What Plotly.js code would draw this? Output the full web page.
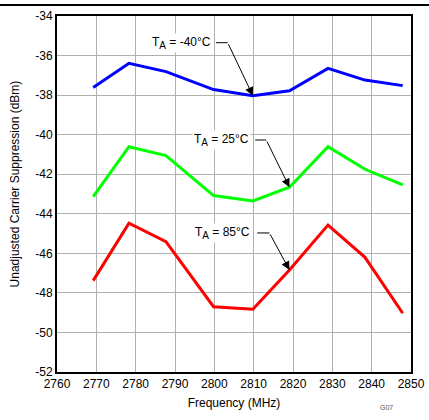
<!DOCTYPE html>
<html>
<head>
<meta charset="utf-8">
<script src="https://cdn.plot.ly/plotly-3.0.1.min.js"></script>
<style>html,body{margin:0;padding:0;background:#fff;}#chart{width:429px;height:420px;}</style>
</head>
<body>
<div id="chart"></div>
<script>
// Data
const freq  = [2769.2, 2778.3, 2787.7, 2799.8, 2809.8, 2819.1, 2828.9, 2838.3, 2847.9];
const tMinus40 = [-37.62, -36.39, -36.81, -37.72, -38.03, -37.78, -36.65, -37.24, -37.52];
const t25      = [-43.13, -40.61, -41.06, -43.08, -43.35, -42.66, -40.61, -41.75, -42.54];
const t85      = [-47.38, -44.48, -45.41, -48.70, -48.83, -46.84, -44.57, -46.20, -49.03];
const seriesNames = ['T<sub><span style="font-size:10px">A</span></sub> = -40°C',
                     'T<sub><span style="font-size:10px">A</span></sub> = 25°C',
                     'T<sub><span style="font-size:10px">A</span></sub> = 85°C'];
const seriesColors = ['#0000ff', '#00ff00', '#ff0000'];
const xTicks = [2760, 2770, 2780, 2790, 2800, 2810, 2820, 2830, 2840, 2850];
const yTicks = [-34, -36, -38, -40, -42, -44, -46, -48, -50, -52];

const FONT = 'Liberation Sans, Arial, sans-serif';
const series = [tMinus40, t25, t85];

const traces = series.map((ys, i) => ({
  x: freq, y: ys, type: 'scatter', mode: 'lines',
  line: {color: seriesColors[i], width: 3},
  name: seriesNames[i], hoverinfo: 'skip'
}));

// callout placement: [text right x, y, elbow x, point index]
const callouts = [
  {tx: 2799.6, ty: -35.35, lx0: 2800.4, lx1: 2803.4, idx: 4},
  {tx: 2809.4, ty: -40.27, lx0: 2810.4, lx1: 2813.2, idx: 5},
  {tx: 2809.7, ty: -44.97, lx0: 2810.9, lx1: 2814.0, idx: 5}
];

const annotations = [];
const shapes = [];
callouts.forEach((c, i) => {
  annotations.push({
    x: c.tx, y: c.ty, xref: 'x', yref: 'y', xanchor: 'right', yanchor: 'middle',
    text: seriesNames[i], showarrow: false, bgcolor: '#ffffff',
    font: {family: FONT, size: 12, color: '#000'}, borderpad: 1
  });
  shapes.push({type: 'line', xref: 'x', yref: 'y', x0: c.lx0, x1: c.lx1, y0: c.ty, y1: c.ty,
    line: {color: '#000', width: 1}});
  annotations.push({
    x: freq[c.idx], y: series[i][c.idx], xref: 'x', yref: 'y',
    ax: c.lx1, ay: c.ty, axref: 'x', ayref: 'y',
    text: '', showarrow: true, arrowhead: 2, arrowsize: 1.7, arrowwidth: 1,
    arrowcolor: '#000', standoff: 0, startstandoff: 0
  });
});

// y-axis title (placed slightly above plot centre, as in the reference)
annotations.push({x: -0.1186, y: 0.527, xref: 'paper', yref: 'paper', xanchor: 'center', yanchor: 'middle',
  textangle: -90, text: 'Unadjusted Carrier Suppression (dBm)', showarrow: false,
  font: {family: FONT, size: 12, color: '#000'}});

// top rule and figure id
shapes.push({type: 'line', xref: 'paper', yref: 'paper', x0: -0.17, x1: 1.06, y0: 1.031, y1: 1.031,
  line: {color: '#000', width: 2}});
annotations.push({x: 0.907, y: -0.101, xref: 'paper', yref: 'paper', xanchor: 'left', yanchor: 'middle',
  text: 'G07', showarrow: false, font: {family: FONT, size: 7, color: '#555'}});

const layout = {
  width: 429, height: 420,
  margin: {l: 57, r: 18, t: 16, b: 48, pad: 0},
  paper_bgcolor: '#fff', plot_bgcolor: '#fff',
  showlegend: false,
  font: {family: FONT, size: 12, color: '#000'},
  xaxis: {
    range: [2760, 2850], tickvals: xTicks, ticktext: xTicks.map(String),
    showgrid: true, gridcolor: '#b0b0b0', gridwidth: 1,
    showline: true, linecolor: '#000', linewidth: 2, mirror: true,
    ticks: '', zeroline: false,
    tickfont: {family: FONT, size: 12, color: '#000'},
    title: {text: 'Frequency (MHz)', font: {family: FONT, size: 12, color: '#000'}, standoff: 8}
  },
  yaxis: {
    range: [-52, -34], tickvals: yTicks, ticktext: yTicks.map(String),
    showgrid: true, gridcolor: '#b0b0b0', gridwidth: 1,
    showline: true, linecolor: '#000', linewidth: 2, mirror: true,
    ticks: '', zeroline: false,
    tickfont: {family: FONT, size: 12, color: '#000'}
  },
  shapes: shapes,
  annotations: annotations
};

Plotly.newPlot('chart', traces, layout, {displayModeBar: false, staticPlot: true});
</script>
</body>
</html>
